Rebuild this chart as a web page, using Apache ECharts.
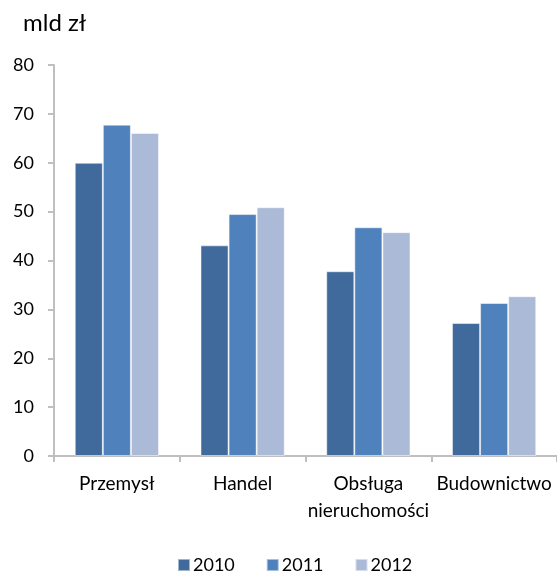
<!DOCTYPE html>
<html>
<head>
<meta charset="utf-8">
<script src="https://cdn.jsdelivr.net/npm/echarts@6/dist/echarts.min.js"></script>
<style>html,body{margin:0;padding:0;background:#fff;}#c{width:557px;height:573px;}</style>
</head>
<body>
<div id="c"></div>
<script>
const categories = ['Przemysł', 'Handel', 'Obsługa\nnieruchomości', 'Budownictwo'];
const seriesNames = ['2010', '2011', '2012'];
const values2010 = [60, 43.1, 37.8, 27.2];
const values2011 = [67.8, 49.5, 46.8, 31.3];
const values2012 = [66.1, 50.9, 45.8, 32.7];
const yTicks = { min: 0, max: 80, interval: 10 };
const unitLabel = 'mld zł';

const colors = ['#406a9c', '#4f81bd', '#abbad7'];
const font = 'Lato, "Open Sans", sans-serif';
const chart = echarts.init(document.getElementById('c'));
const allValues = [values2010, values2011, values2012];
chart.setOption({
  animation: false,
  color: colors,
  title: {
    text: unitLabel, left: 23, top: 11, padding: 0,
    textStyle: { fontFamily: font, fontSize: 24, fontWeight: 'normal', color: '#000' }
  },
  legend: {
    data: seriesNames, top: 556, left: 177, padding: 0,
    itemWidth: 12, itemHeight: 12, itemGap: 31, icon: 'rect',
    textStyle: { fontFamily: font, fontSize: 18, color: '#000', padding: [0, 0, 0, -2] }
  },
  grid: { left: 54, right: -7, top: 65, bottom: 117, containLabel: false },
  xAxis: {
    type: 'category', data: categories,
    axisLine: { lineStyle: { color: '#bfbfbf', width: 2 } },
    axisTick: { show: true, length: 6, alignWithLabel: false, lineStyle: { color: '#bfbfbf', width: 2 } },
    axisLabel: { interval: 0, margin: 14, fontFamily: font, fontSize: 19, color: '#000', lineHeight: 27 }
  },
  yAxis: {
    type: 'value', min: yTicks.min, max: yTicks.max, interval: yTicks.interval,
    axisLine: { show: true, lineStyle: { color: '#bfbfbf', width: 2 } },
    axisTick: { show: true, length: 6, lineStyle: { color: '#bfbfbf', width: 2 } },
    splitLine: { show: false },
    axisLabel: { margin: 20, fontFamily: font, fontSize: 18, color: '#000' }
  },
  series: seriesNames.map((n, i) => ({
    name: n, type: 'bar', data: allValues[i],
    barGap: '0%', barCategoryGap: '33%',
    itemStyle: { borderColor: 'rgba(255,255,255,0.5)', borderWidth: 1 }
  }))
});
</script>
</body>
</html>
